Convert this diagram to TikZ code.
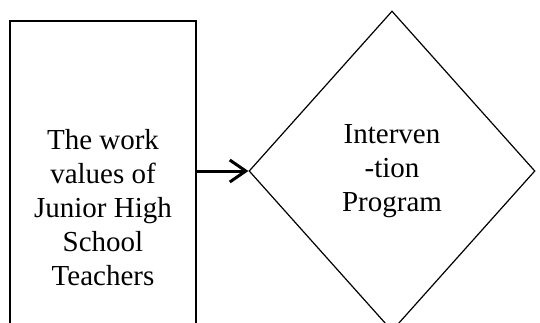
\documentclass[tikz,border=0pt]{standalone}
\usepackage{fontspec}
\setmainfont{Liberation Serif}
\usetikzlibrary{
    arrows.meta,
    positioning,
    shapes.geometric
}

\begin{document}
\begin{tikzpicture}[
    x=0.5pt, y=-0.5pt,
    % Plain boxes in the style of a word processor figure
    textfont/.style={
        font=\fontsize{14.5}{17}\selectfont,
        align=center
    },
    varbox/.style={
        textfont,
        draw=black,
        line width=0.6pt,
        minimum width=93pt,
        minimum height=187pt,
        inner sep=0pt
    },
    decision/.style={
        textfont,
        diamond,
        draw=black,
        line width=0.6pt,
        minimum width=143pt,
        minimum height=160pt,
        inner sep=0pt
    },
    mainflow/.style={
        -{Straight Barb[length=8pt,width=11pt]},
        line width=1.5pt,
        black
    }
]
    % Visible window of the figure
    \useasboundingbox (0,0) rectangle (540,322);

    % Variable box and programme diamond
    \node[varbox] (values) at (103,208) {The work\\values of\\Junior High\\School\\Teachers};
    \node[decision] (program) at (392,171) {Interven\\-tion\\Program};

    % Arrow into the programme
    \draw[mainflow] (values.east |- program.west) -- (program.west);
\end{tikzpicture}
\end{document}
